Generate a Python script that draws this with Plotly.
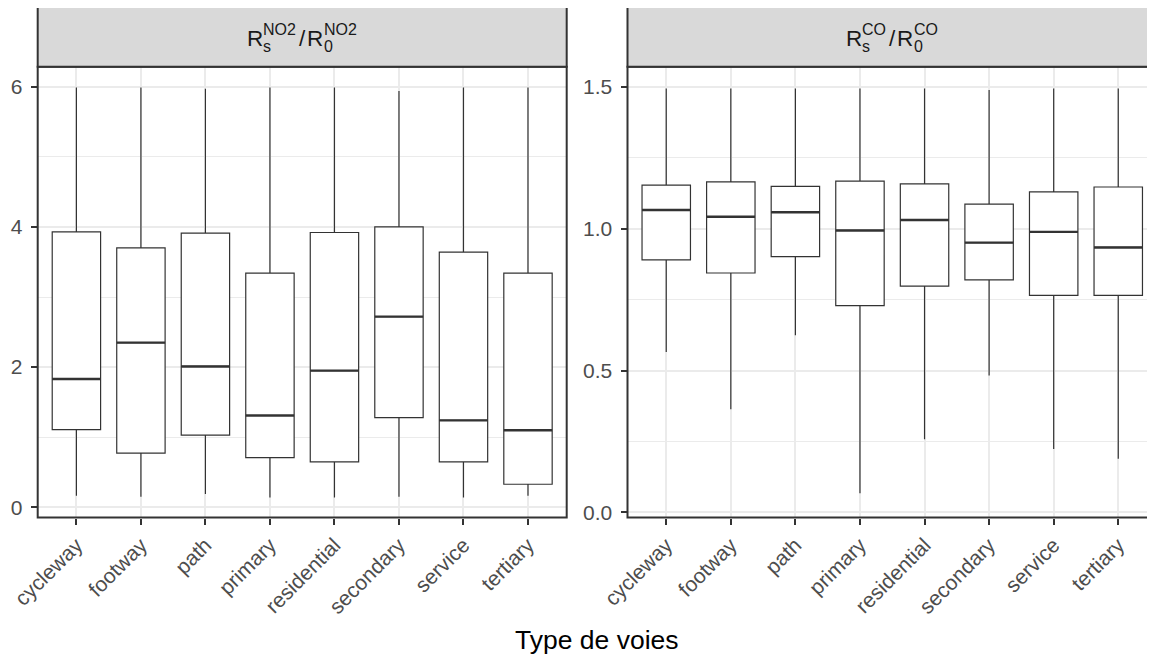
import plotly.graph_objects as go

W, H = 1155, 659
OFF = 8  # default page margin around the plot div
FW, FH = W - OFF, H - OFF

categories = ["cycleway", "footway", "path", "primary", "residential", "secondary", "service", "tertiary"]

# Left panel: R_s^NO2 / R_0^NO2
no2_low = [0.165, 0.15, 0.19, 0.14, 0.14, 0.15, 0.14, 0.165]
no2_q1 = [1.11, 0.775, 1.03, 0.71, 0.65, 1.28, 0.65, 0.33]
no2_med = [1.83, 2.35, 2.01, 1.31, 1.95, 2.72, 1.24, 1.10]
no2_q3 = [3.93, 3.70, 3.91, 3.34, 3.92, 4.00, 3.64, 3.34]
no2_high = [5.99, 5.99, 5.97, 5.99, 5.99, 5.94, 5.99, 5.99]

# Right panel: R_s^CO / R_0^CO
co_low = [0.566, 0.364, 0.625, 0.068, 0.258, 0.483, 0.224, 0.189]
co_q1 = [0.890, 0.844, 0.902, 0.729, 0.798, 0.820, 0.765, 0.765]
co_med = [1.066, 1.042, 1.058, 0.994, 1.031, 0.951, 0.989, 0.934]
co_q3 = [1.154, 1.165, 1.149, 1.168, 1.158, 1.087, 1.130, 1.147]
co_high = [1.494, 1.494, 1.494, 1.494, 1.494, 1.489, 1.494, 1.494]

DARK = "#333333"
GRID = "#ebebeb"
FONT = "Liberation Sans"


def px(x):
    return (x - OFF) / FW


def py(y):
    return 1 - (y - OFF) / FH


# panel pixel geometry (page pixels)
P1 = (37.7, 566.7)
P2 = (627.5, 1157.0)
TOP, BOT = 66.7, 517.6
STRIP_TOP = 6.7

fig = go.Figure()

panels = [
    ("x", "y", no2_low, no2_q1, no2_med, no2_q3, no2_high),
    ("x2", "y2", co_low, co_q1, co_med, co_q3, co_high),
]
for xa, ya, lo, q1, med, q3, hi in panels:
    fig.add_trace(go.Box(
        x=categories, q1=q1, median=med, q3=q3, lowerfence=lo, upperfence=hi,
        xaxis=xa, yaxis=ya, width=0.75, whiskerwidth=0,
        fillcolor="white", line=dict(color=DARK, width=1.2),
        boxpoints=False, showlegend=False, hoverinfo="skip",
    ))
    # thicker median lines, like ggplot
    for i, m in enumerate(med):
        fig.add_shape(type="line", xref=xa, yref=ya, x0=i - 0.375, x1=i + 0.375,
                      y0=m, y1=m, line=dict(color=DARK, width=2.4), layer="above")

tickfont = dict(family=FONT, size=21, color="#4d4d4d")

r2_end = min(P2[1], W)
r2_span = 8.2 * (r2_end - P2[0]) / (P2[1] - P2[0])

common_x = dict(
    type="category", showgrid=True, gridcolor=GRID, gridwidth=1.8,
    ticks="outside", ticklen=6, tickcolor=DARK, tickwidth=1.8,
    tickangle=-45, tickfont=tickfont, showline=False, zeroline=False,
    automargin=False,
)
common_y = dict(
    showgrid=True, gridcolor=GRID, gridwidth=1.8, zeroline=False,
    ticks="outside", ticklen=6, tickcolor=DARK, tickwidth=1.8, tickfont=tickfont,
    automargin=False, domain=[py(BOT), py(TOP)], ticklabelstandoff=4,
)
fig.update_layout(
    width=FW, height=FH, margin=dict(l=0, r=0, t=0, b=0, autoexpand=False),
    paper_bgcolor="white", plot_bgcolor="white",
    xaxis=dict(common_x, domain=[px(P1[0]), px(P1[1])], range=[-0.6, 7.6], anchor="y"),
    xaxis2=dict(common_x, domain=[px(P2[0]), 1.0], range=[-0.6, -0.6 + r2_span], anchor="y2"),
    yaxis=dict(common_y, range=[-0.146, 6.285], tickvals=[0, 2, 4, 6],
               ticktext=["0", "2", "4", "6"],
               minor=dict(dtick=1, tick0=0, showgrid=True, gridcolor=GRID, gridwidth=0.9),
               anchor="x"),
    yaxis2=dict(common_y, range=[-0.018, 1.571], tickvals=[0, 0.5, 1.0, 1.5],
                ticktext=["0.0", "0.5", "1.0", "1.5"],
                minor=dict(dtick=0.25, tick0=0, showgrid=True, gridcolor=GRID, gridwidth=0.9),
                anchor="x2"),
)

# panel borders and strips
for (x0, x1) in (P1, P2):
    fig.add_shape(type="rect", xref="paper", yref="paper", x0=px(x0), x1=px(x1),
                  y0=py(BOT), y1=py(TOP), line=dict(color=DARK, width=2),
                  fillcolor="rgba(0,0,0,0)", layer="above")
    fig.add_shape(type="rect", xref="paper", yref="paper", x0=px(x0), x1=px(x1),
                  y0=py(TOP), y1=py(STRIP_TOP), line=dict(color=DARK, width=2),
                  fillcolor="#d9d9d9", layer="above")

# strip labels built as R_s^X / R_0^X with stacked scripts
ADV = {"R": 0.722, "N": 0.722, "O": 0.778, "C": 0.722, "2": 0.556, "/": 0.278,
       "s": 0.5, "0": 0.556}
BIG, SMALL = 22.5, 16
GAP_SCRIPT, GAP_SLASH = 3.0, 2.0


def wid(t, size):
    return sum(ADV[c] for c in t) * size


def strip_label(center, sp):
    sw = wid(sp, SMALL)
    total = 2 * wid("R", BIG) + 2 * sw + wid("/", BIG) + 2 * GAP_SCRIPT + GAP_SLASH
    x = center - total / 2
    pieces = []
    for sub in ("s", "0"):
        pieces.append((x, 38.0, "R", BIG))
        x += wid("R", BIG)
        pieces.append((x, 29.5, sp, SMALL))
        pieces.append((x, 46.0, sub, SMALL))
        x += sw + GAP_SCRIPT
        if sub == "s":
            pieces.append((x, 38.0, "/", BIG))
            x += wid("/", BIG) + GAP_SLASH
    for (xx, yy, t, s) in pieces:
        fig.add_annotation(xref="paper", yref="paper", x=px(xx), y=py(yy), text=t,
                           xanchor="left", yanchor="middle", showarrow=False,
                           font=dict(family=FONT, size=s, color="#1a1a1a"), borderpad=0)


strip_label((P1[0] + P1[1]) / 2, "NO2")
strip_label((P2[0] + P2[1]) / 2, "CO")

fig.add_annotation(xref="paper", yref="paper", x=px((P1[0] + P2[1]) / 2), y=py(640),
                   text="Type de voies", showarrow=False, xanchor="center", yanchor="middle",
                   font=dict(family=FONT, size=26.5, color="black"))

fig.write_html("out.html")
